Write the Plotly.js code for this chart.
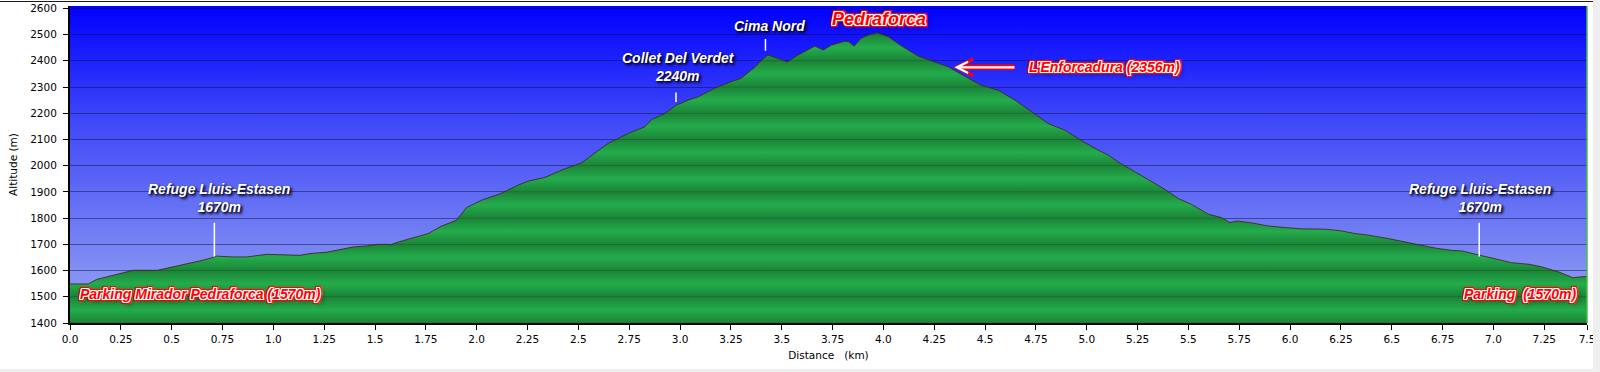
<!DOCTYPE html>
<html><head><meta charset="utf-8">
<script src="https://cdn.plot.ly/plotly-3.0.1.min.js"></script>
<style>
html,body{margin:0;padding:0;background:#fff;}
#wrap{position:relative;width:1600px;height:372px;overflow:hidden;}
#chart{width:1600px;height:372px;}
.deco{position:absolute;pointer-events:none;}
</style></head><body>
<div id="wrap"><div id="chart"></div>
<div class="deco" style="left:0;top:1px;width:1593px;height:1px;background:#1a1a1a"></div>
<div class="deco" style="left:1593px;top:0;width:7px;height:372px;background:#efefef"></div>
<div class="deco" style="left:0;top:369px;width:1600px;height:3px;background:#efefef"></div>
</div>
<script>
// ---- profile data (distance km, altitude m) ----
const distKm = [0.00,0.09,0.13,0.18,0.246,0.31,0.43,0.51,0.574,0.64,0.705,0.72,0.80,0.87,0.967,1.017,1.131,1.18,1.263,1.328,1.394,1.46,1.515,1.564,1.575,1.62,1.663,1.761,1.826,1.90,1.95,2.023,2.12,2.204,2.253,2.335,2.417,2.515,2.55,2.646,2.745,2.827,2.86,2.925,2.98,3.04,3.09,3.17,3.25,3.30,3.37,3.41,3.433,3.466,3.528,3.58,3.63,3.663,3.704,3.745,3.81,3.83,3.856,3.89,3.925,3.97,4.024,4.09,4.171,4.237,4.32,4.40,4.48,4.565,4.647,4.73,4.81,4.893,4.975,5.057,5.106,5.155,5.22,5.32,5.385,5.45,5.515,5.598,5.663,5.704,5.737,5.81,5.893,5.975,6.057,6.172,6.253,6.32,6.385,6.483,6.548,6.63,6.712,6.794,6.844,6.935,7.008,7.09,7.175,7.237,7.32,7.39,7.46];
const altM = [1549,1549,1566,1576,1591,1601,1601,1614,1627,1637,1650,1655,1652,1652,1662,1661,1658,1665,1670,1680,1690,1694,1700,1700,1698,1710,1719,1741,1769,1792,1840,1868,1894,1926,1941,1955,1983,2011,2030,2085,2123,2148,2176,2199,2230,2250,2263,2295,2320,2333,2377,2409,2422,2413,2396,2422,2443,2456,2441,2460,2475,2473,2456,2486,2498,2507,2492,2456,2418,2399,2377,2341,2307,2288,2250,2205,2161,2135,2095,2059,2040,2014,1985,1938,1909,1875,1852,1815,1802,1783,1789,1782,1770,1764,1759,1758,1751,1741,1735,1722,1712,1699,1686,1677,1675,1658,1646,1630,1624,1614,1595,1573,1578];

// ---- ticks ----
const xTickVals = [0,0.25,0.5,0.75,1,1.25,1.5,1.75,2,2.25,2.5,2.75,3,3.25,3.5,3.75,4,4.25,4.5,4.75,5,5.25,5.5,5.75,6,6.25,6.5,6.75,7,7.25,7.46];
const xTickText = ['0.0','0.25','0.5','0.75','1.0','1.25','1.5','1.75','2.0','2.25','2.5','2.75','3.0','3.25','3.5','3.75','4.0','4.25','4.5','4.75','5.0','5.25','5.5','5.75','6.0','6.25','6.5','6.75','7.0','7.25','7.5'];
const yTickVals = [1400,1500,1600,1700,1800,1900,2000,2100,2200,2300,2400,2500,2600];

// ---- white place labels ----
const whiteText = ['Refuge Lluis-Estasen<br>1670m','Collet Del Verdet<br>2240m','Cima Nord','Refuge Lluis-Estasen<br>1670m'];
const whiteKm   = [0.733, 2.99, 3.438, 6.936];
const whiteAlt  = [1876, 2375, 2532, 1876];
// marker ticks under labels: [km, from alt, to alt]
const markKm    = [0.71, 2.98, 3.42, 6.93];
const markLow   = [1654, 2243, 2438, 1654];
const markHigh  = [1788, 2285, 2489, 1788];

// ---- red labels ----
const redText = ['Pedraforca','L\u2019Enforcadura (2356m)','Parking Mirador Pedraforca (1570m)','Parking\u00a0\u00a0(1570m)'];
const redKm   = [3.98, 5.086, 0.64, 7.13];
const redAlt  = [2559, 2376, 1509, 1509];
// arrow to L'Enforcadura: head / tail
const arrowHead = [4.342, 2375];
const arrowTail = [4.652, 2375];

// ---- styling ----
const bgSvg = '<svg xmlns="http://www.w3.org/2000/svg" width="10" height="100" preserveAspectRatio="none">' +
  '<defs><linearGradient id="g" x1="0" y1="0" x2="0" y2="1">' +
  '<stop offset="0" stop-color="#0000ff"/><stop offset="0.36" stop-color="#3f48f8"/>' +
  '<stop offset="0.8" stop-color="#7d8af3"/><stop offset="1" stop-color="#9ca7f6"/>' +
  '</linearGradient></defs><rect width="10" height="100" fill="url(#g)"/></svg>';
const bgURI = 'data:image/svg+xml;charset=utf-8,' + encodeURIComponent(bgSvg);

const gStart = 1400, gStop = 2600;
const lineCol = '#166a2d', edgeCol = '#1c8639', midCol = '#24ac4c';
const cs = [];
for (let b = gStart; b < gStop; b += 100) {
  const f = v => (v - gStart) / (gStop - gStart);
  cs.push([f(b), lineCol]);
  cs.push([f(b + 3), edgeCol]);
  cs.push([f(b + 50), midCol]);
  cs.push([f(b + 97), edgeCol]);
}
cs.push([1, lineCol]);

const tickFont = {family: 'DejaVu Sans, Verdana, sans-serif', size: 10.5, color: '#000'};
const labelFamily = 'Liberation Sans, Arial, sans-serif';
const whiteShadow = '2px 2px 3px rgba(0,0,25,0.95), 1px 1px 2px rgba(0,0,25,0.8)';
const redShadow = '1px 0 0 #fff, -1px 0 0 #fff, 0 1px 0 #fff, 0 -1px 0 #fff, 1px 1px 0 #fff, -1px -1px 0 #fff, 1px -1px 0 #fff, -1px 1px 0 #fff, ' +
  '2px 0 0 #f00, -2px 0 0 #f00, 0 2px 0 #f00, 0 -2px 0 #f00, 2px 2px 0 #f00, -2px -2px 0 #f00, 2px -2px 0 #f00, -2px 2px 0 #f00, ' +
  '0 0 3px #f00, 0 0 4px #f00, 3px 3px 4px rgba(0,0,0,0.45)';

const trace = {
  x: distKm, y: altM, type: 'scatter', mode: 'lines',
  line: {color: 'rgba(70,35,25,0.85)', width: 1},
  fill: 'tozeroy',
  fillgradient: {type: 'vertical', start: gStart, stop: gStop, colorscale: cs},
  hoverinfo: 'skip'
};

const ann = [];
whiteText.forEach((t, i) => ann.push({
  x: whiteKm[i], y: whiteAlt[i], xref: 'x', yref: 'y', text: t, showarrow: false,
  xanchor: 'center', yanchor: 'middle',
  font: {family: labelFamily, size: 14, color: '#fff', weight: 'bold', style: 'italic', shadow: whiteShadow}
}));
markKm.forEach((k, i) => ann.push({
  x: k, y: markLow[i], ax: k, ay: markHigh[i], xref: 'x', yref: 'y', axref: 'x', ayref: 'y',
  text: '', showarrow: true, arrowhead: 0, arrowwidth: 1.5, arrowcolor: '#ffffff'
}));
ann.push({
  x: arrowHead[0], y: arrowHead[1], ax: arrowTail[0], ay: arrowTail[1], xref: 'x', yref: 'y', axref: 'x', ayref: 'y',
  text: '', showarrow: true, arrowhead: 5, arrowsize: 0.6, arrowwidth: 5.5, arrowcolor: '#ff0000'
});
ann.push({
  x: arrowHead[0], y: arrowHead[1], ax: arrowTail[0], ay: arrowTail[1], xref: 'x', yref: 'y', axref: 'x', ayref: 'y',
  text: '', showarrow: true, arrowhead: 5, arrowsize: 1, arrowwidth: 2.2, arrowcolor: '#ffffff', standoff: 1.5
});
redText.forEach((t, i) => ann.push({
  x: redKm[i], y: redAlt[i], xref: 'x', yref: 'y', text: t, showarrow: false,
  xanchor: 'center', yanchor: 'middle',
  font: {family: labelFamily, size: i === 0 ? 18 : 14, color: '#ff0000', weight: 'bold', style: 'italic', shadow: redShadow}
}));

const layout = {
  width: 1600, height: 372,
  margin: {l: 70, r: 13, t: 6, b: 49, pad: 0},
  paper_bgcolor: '#ffffff', plot_bgcolor: 'rgba(0,0,0,0)',
  showlegend: false,
  xaxis: {
    range: [0, 7.46], tickmode: 'array', tickvals: xTickVals, ticktext: xTickText,
    ticks: 'outside', ticklen: 5, tickwidth: 1, tickcolor: '#000',
    showline: true, linecolor: '#000', linewidth: 2, showgrid: false, zeroline: false,
    tickfont: tickFont, fixedrange: true,
    title: {text: 'Distance\u00a0\u00a0\u00a0(km)', font: tickFont, standoff: 8}
  },
  yaxis: {
    range: [1400, 2609], tickmode: 'array', tickvals: yTickVals,
    ticks: 'outside', ticklen: 5, tickwidth: 1, tickcolor: '#000',
    showline: true, linecolor: '#000', linewidth: 2,
    showgrid: true, gridcolor: 'rgba(15,15,60,0.5)', gridwidth: 1, zeroline: false,
    tickfont: tickFont, ticklabelstandoff: 4, fixedrange: true,
    title: {text: 'Altitude (m)', font: tickFont, standoff: 10}
  },
  images: [{source: bgURI, xref: 'paper', yref: 'paper', x: 0, y: 1, sizex: 1, sizey: 1,
            sizing: 'stretch', xanchor: 'left', yanchor: 'top', layer: 'below'}],
  shapes: [{type: 'line', xref: 'paper', yref: 'paper', x0: 1, x1: 1, y0: 0, y1: 1,
            line: {color: '#45c045', width: 1.5}}],
  annotations: ann
};

Plotly.newPlot('chart', [trace], layout, {displayModeBar: false, staticPlot: true});
</script>
</body></html>
